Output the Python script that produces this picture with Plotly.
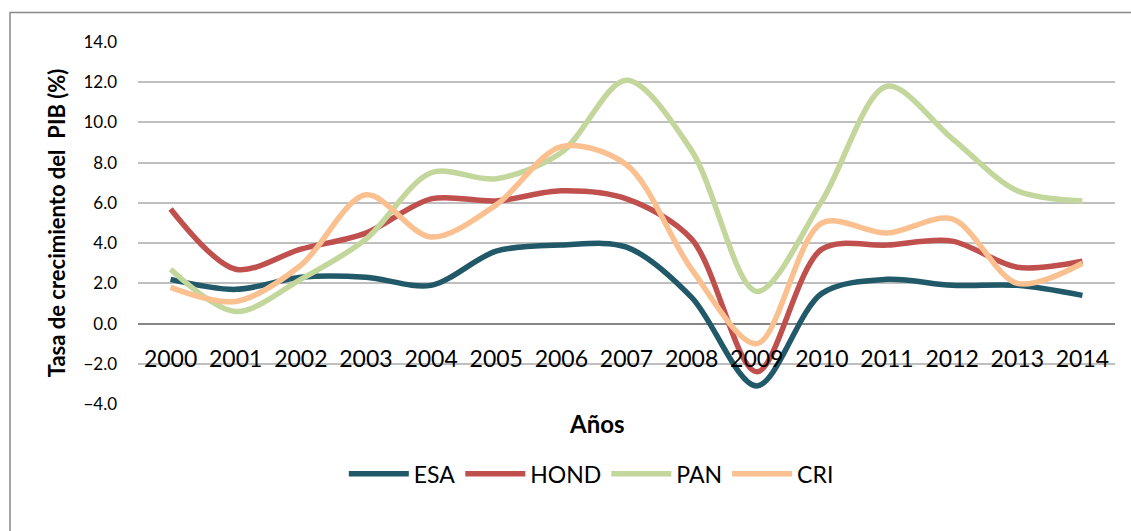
import plotly.graph_objects as go

# GDP growth rate (%) by year
years = ['2000', '2001', '2002', '2003', '2004', '2005', '2006', '2007',
         '2008', '2009', '2010', '2011', '2012', '2013', '2014']
esa = [2.2, 1.7, 2.3, 2.3, 1.9, 3.6, 3.9, 3.8, 1.3, -3.1, 1.5, 2.2, 1.9, 1.9, 1.4]
hond = [5.7, 2.7, 3.7, 4.5, 6.2, 6.1, 6.6, 6.2, 4.2, -2.4, 3.7, 3.9, 4.1, 2.8, 3.1]
pan = [2.7, 0.6, 2.2, 4.2, 7.5, 7.2, 8.5, 12.1, 8.6, 1.6, 6.1, 11.8, 9.2, 6.6, 6.1]
cri = [1.8, 1.1, 2.9, 6.4, 4.3, 5.9, 8.8, 7.9, 2.7, -1.0, 5.0, 4.5, 5.2, 2.0, 3.0]

series = [
    ('ESA', esa, '#215968'),
    ('HOND', hond, '#C0504D'),
    ('PAN', pan, '#C3D69B'),
    ('CRI', cri, '#FAC090'),
]

font = 'Lato, Calibri, sans-serif'

fig = go.Figure()
for name, vals, color in series:
    fig.add_trace(go.Scatter(
        x=years, y=vals, name=name, mode='lines',
        line=dict(color=color, width=5.5, shape='spline', smoothing=0.9),
    ))

# plot area spans px 138-1115 horizontally and 42-404 vertically
ymin, ymax = -4, 14
fig.update_layout(
    width=1131, height=531,
    margin=dict(l=138, r=16, t=42, b=127),
    paper_bgcolor='white', plot_bgcolor='white',
    font=dict(family=font, color='black'),
    showlegend=True,
    legend=dict(
        orientation='h', x=0.464, xanchor='center', y=-0.193, yanchor='middle',
        font=dict(size=23), itemwidth=60,
    ),
    xaxis=dict(
        type='category', range=[-0.5, 14.5],
        anchor='free', position=(0 - ymin) / (ymax - ymin),
        showline=False, showgrid=False, ticks='',
        tickfont=dict(size=23), ticklabelstandoff=19,
    ),
    yaxis=dict(
        range=[ymin, ymax], dtick=2, tickformat='.1f',
        showgrid=True, gridcolor='#BFBFBF', gridwidth=1.5,
        zeroline=True, zerolinecolor='#868686', zerolinewidth=1.5,
        showline=False, ticks='',
        tickfont=dict(size=17), ticklabelstandoff=20,
        title=dict(text='<b>Tasa de crecimiento del\u00a0 PIB (%)</b>',
                   font=dict(size=22), standoff=11),
    ),
    annotations=[dict(
        text='<b>Años</b>', xref='paper', yref='paper',
        x=0.47, y=-0.0525, xanchor='center', yanchor='middle',
        showarrow=False, font=dict(size=24),
    )],
    shapes=[dict(
        type='rect', xref='paper', yref='paper',
        x0=-0.131, x1=1.2, y0=-0.5, y1=1.0815,
        line=dict(color='#888888', width=1.5), layer='below',
    )],
)

# drop the default page margin so the figure sits at the window's corner
fig.write_html(
    'out.html',
    config={'displayModeBar': False},
    post_script="document.body.style.margin='0';document.body.style.overflow='hidden';",
)
